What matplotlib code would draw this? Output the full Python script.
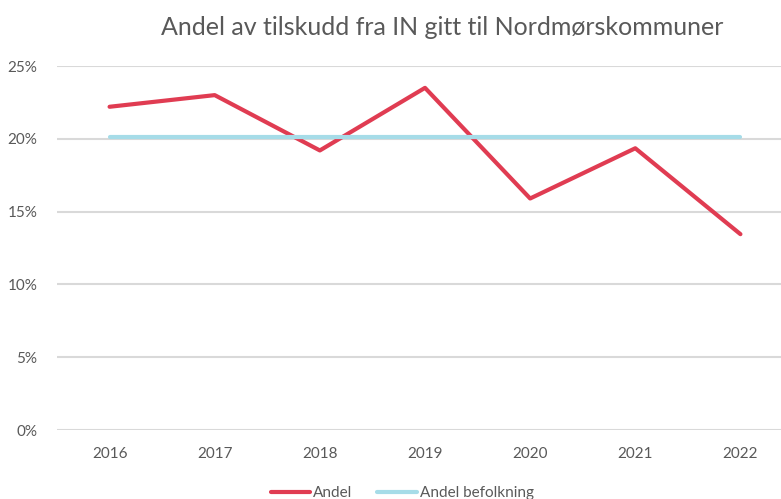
import matplotlib
matplotlib.use("Agg")
import matplotlib.pyplot as plt
from matplotlib.ticker import FuncFormatter, MultipleLocator

years = ["2016", "2017", "2018", "2019", "2020", "2021", "2022"]
andel = [22.2, 23.0, 19.2, 23.5, 15.9, 19.35, 13.45]
andel_befolkning = [20.1, 20.1, 20.1, 20.1, 20.1, 20.1, 20.1]

plt.rcParams['font.family'] = ['Lato', 'DejaVu Sans']

fig = plt.figure(figsize=(7.81, 4.99), dpi=100)
# axes runs past the right edge, as in the original
ax = fig.add_axes([57 / 781, (499 - 430) / 499, 736 / 781, 364 / 499])

x = list(range(len(years)))
ax.plot(x, andel, color="#E03C52", lw=3, label="Andel", solid_capstyle="round")
ax.plot(x, andel_befolkning, color="#A6DCE8", lw=3, label="Andel befolkning",
        solid_capstyle="round")

ax.set_xlim(-0.5, len(years) - 0.5)
ax.set_ylim(0, 25)
ax.yaxis.set_major_locator(MultipleLocator(5))
ax.yaxis.set_major_formatter(FuncFormatter(lambda v, p: f"{v:.0f}%"))
ax.set_xticks(x)
ax.set_xticklabels(years)

ax.grid(axis="y", color="#D9D9D9", lw=1.5)
ax.set_axisbelow(True)
for s in ax.spines.values():
    s.set_visible(False)
ax.tick_params(length=0, colors="#595959", labelsize=11)
ax.tick_params(axis="x", pad=12)
ax.tick_params(axis="y", pad=14)

fig.text(0.566, 0.944, "Andel av tilskudd fra IN gitt til Nordmørskommuner",
         ha="center", va="center", fontsize=18, color="#595959")

fig.legend(loc="center", bbox_to_anchor=(0.515, 0.012), ncol=2, frameon=False,
           fontsize=11, labelcolor="#595959", handlelength=2.6,
           handletextpad=0.2, columnspacing=1.6)

fig.savefig("out.png", dpi=100)
